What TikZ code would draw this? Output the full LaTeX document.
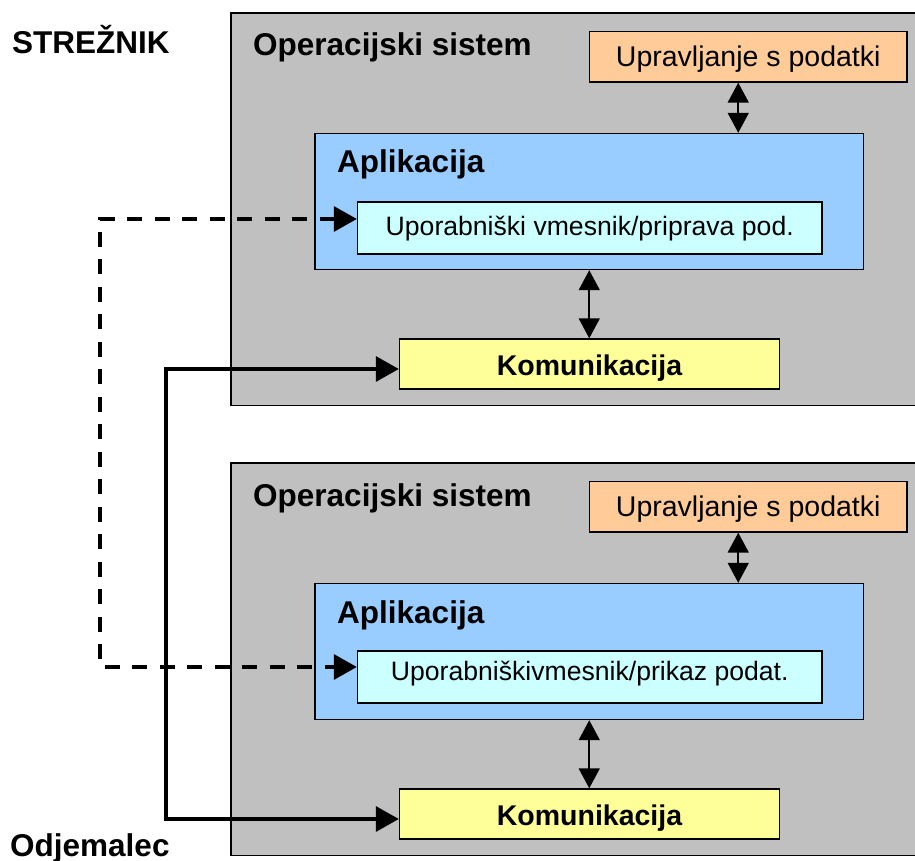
\documentclass[tikz,border=0pt]{standalone}
\usepackage{fontspec}
\setmainfont{Liberation Sans}
\usetikzlibrary{arrows.meta,calc}

\definecolor{osgray}{HTML}{C0C0C0}
\definecolor{dataorange}{HTML}{FFCC99}
\definecolor{appblue}{HTML}{99CCFF}
\definecolor{uicyan}{HTML}{CCFFFF}
\definecolor{comyellow}{HTML}{FFFF99}

% shift a label vertically without changing the size of its box
\newcommand{\liftby}[2]{\raisebox{#1}[\height][\depth]{#2}}

\tikzset{
  box/.style={draw=black, line width=1.4pt, rectangle, inner sep=0pt},
  osbox/.style={box, fill=osgray},
  databox/.style={box, fill=dataorange, minimum width=317.5pt, minimum height=50.5pt,
    font=\fontsize{28.5}{32}\selectfont},
  appbox/.style={box, fill=appblue, minimum width=548.5pt, minimum height=136pt},
  uibox/.style={box, fill=uicyan, minimum width=464.5pt, minimum height=52pt,
    font=\fontsize{26.6}{30}\selectfont},
  combox/.style={box, fill=comyellow, minimum width=380pt, minimum height=50pt,
    font=\fontsize{28.5}{32}\selectfont\bfseries},
  title/.style={inner sep=0pt, anchor=base west, font=\fontsize{31.5}{36}\selectfont\bfseries},
  dblarrow/.style={line width=1.7pt,
    {Triangle[length=20pt,width=21pt]}-{Triangle[length=20pt,width=21pt]}},
  dashlink/.style={line width=3.4pt, dash pattern=on 15pt off 12.5pt,
    {Triangle[length=23pt,width=25pt]}-{Triangle[length=23pt,width=25pt]}},
  solidlink/.style={line width=3.4pt,
    {Triangle[length=23pt,width=25pt]}-{Triangle[length=23pt,width=25pt]}}
}

\begin{document}
\begin{tikzpicture}[x=1pt,y=-1pt]
  \useasboundingbox (0,0) rectangle (915,861);
  \clip (0,0) rectangle (915,861);

  % server (top) and client (bottom) stacks
  \foreach \p/\dy in {1/0, 2/450} {
    \node[osbox, minimum width=694pt, minimum height=392.5pt] (os\p) at (578,209.25+\dy) {};
    \node[databox] (data\p) at (748.25,56.75+\dy) {\liftby{-2pt}{Upravljanje s podatki}};
    \node[appbox] (app\p) at (589.25,201.5+\dy) {};
    \node[combox] (com\p) at (589.5,364+\dy) {\liftby{-4pt}{Komunikacija}};
    \node[title] (ostitle\p) at (253,56+\dy) {Operacijski sistem};
    \node[title] (apptitle\p) at (337,173+\dy) {Aplikacija};
  }
  \node[uibox] (ui1) at (589.75,228) {\liftby{-1pt}{Uporabniški vmesnik/priprava pod.}};
  \node[uibox] (ui2) at (589.75,677) {\liftby{3pt}{Uporabniškivmesnik/prikaz podat.}};

  % side labels
  \node[title] (server) at (12,54) {STREŽNIK};
  \node[title] (client) at (10,856) {Odjemalec};

  % internal links inside each stack
  \foreach \p in {1,2} {
    \coordinate (dd\p) at ([xshift=-10pt]data\p.south);
    \draw[dblarrow] (dd\p) -- (dd\p |- app\p.north);
    \draw[dblarrow] (app\p.south) -- (app\p.south |- com\p.north);
  }

  % user interface link (dashed) and communication link (solid)
  \coordinate (dashx) at (100,0);
  \coordinate (solidx) at (166,0);
  \coordinate (ui1in) at ([yshift=9pt]ui1.west);
  \coordinate (ui2in) at ([yshift=10pt]ui2.west);
  \coordinate (com1in) at ([yshift=-5pt]com1.west);
  \coordinate (com2in) at ([yshift=-5pt]com2.west);
  \draw[dashlink] (ui1in) -- (ui1in -| dashx) -- (ui2in -| dashx) -- (ui2in);
  \draw[solidlink] (com1in) -- (com1in -| solidx) -- (com2in -| solidx) -- (com2in);
\end{tikzpicture}
\end{document}
